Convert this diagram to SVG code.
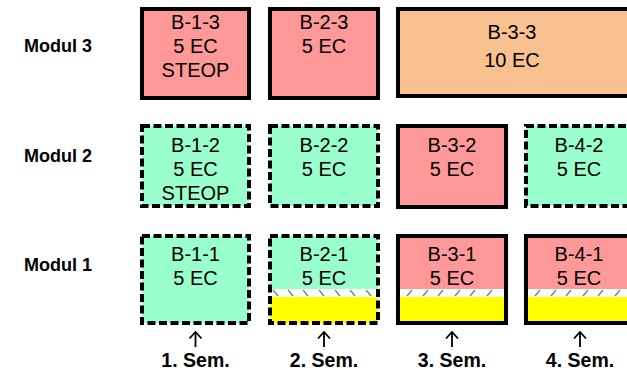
<svg xmlns="http://www.w3.org/2000/svg" width="627" height="376" viewBox="0 0 627 376">
<style>
.lab{font-family:"Liberation Sans",Arial,sans-serif;font-weight:bold;font-size:18px;fill:#000}
.bt{font-family:"Liberation Sans",Arial,sans-serif;font-size:20px;fill:#000;text-anchor:middle}
.sem{font-family:"Liberation Sans",Arial,sans-serif;font-weight:bold;font-size:19.5px;fill:#000;text-anchor:middle}
.solid{fill:none;stroke:#000;stroke-width:4}
.dash{fill:none;stroke:#000;stroke-width:4;stroke-dasharray:8 3.5}
.pink{fill:#FF9999}
.green{fill:#99FFCC}
.orange{fill:#F9C18F}
.yel{fill:#FFFF00}
.wh{fill:#FFFFFF}
.hatch{stroke:#777;stroke-width:1.2}
.arr{stroke:#000;stroke-width:1.8;fill:none}
</style>
<defs>
<marker id="ah" markerWidth="9" markerHeight="14" refX="7.5" refY="7" orient="auto" markerUnits="userSpaceOnUse" viewBox="0 0 9 14">
<path d="M1,1 L7.5,7 L1,13" fill="none" stroke="#000" stroke-width="1.8"/>
</marker>
</defs>
<rect width="627" height="376" fill="#fff"/>
<g id="labels">
<text class="lab" x="24" y="52">Modul 3</text>
<text class="lab" x="24" y="162">Modul 2</text>
<text class="lab" x="24" y="271">Modul 1</text>
</g>
<g id="B-1-3">
<rect class="pink" x="142" y="9" width="107" height="89"/>
<rect class="solid" x="142" y="9" width="107" height="89"/>
<text class="bt" x="195.5" y="29">B-1-3</text>
<text class="bt" x="195.5" y="53">5 EC</text>
<text class="bt" x="195.5" y="77">STEOP</text>
</g>
<g id="B-2-3">
<rect class="pink" x="270" y="9" width="108" height="89"/>
<rect class="solid" x="270" y="9" width="108" height="89"/>
<text class="bt" x="324" y="29">B-2-3</text>
<text class="bt" x="324" y="53">5 EC</text>
</g>
<g id="B-3-3">
<rect class="orange" x="398" y="9" width="231" height="87"/>
<rect class="solid" x="398" y="9" width="231" height="87"/>
<text class="bt" x="512" y="39">B-3-3</text>
<text class="bt" x="512" y="67">10 EC</text>
</g>
<g id="B-1-2">
<rect class="green" x="142" y="126" width="107" height="80"/>
<rect class="dash" x="142" y="126" width="107" height="80"/>
<text class="bt" x="195.5" y="152">B-1-2</text>
<text class="bt" x="195.5" y="176">5 EC</text>
<text class="bt" x="195.5" y="200">STEOP</text>
</g>
<g id="B-2-2">
<rect class="green" x="270" y="126" width="108" height="80"/>
<rect class="dash" x="270" y="126" width="108" height="80"/>
<text class="bt" x="324" y="152">B-2-2</text>
<text class="bt" x="324" y="176">5 EC</text>
</g>
<g id="B-3-2">
<rect class="pink" x="398" y="126" width="108" height="81"/>
<rect class="solid" x="398" y="126" width="108" height="81"/>
<text class="bt" x="452" y="152">B-3-2</text>
<text class="bt" x="452" y="176">5 EC</text>
</g>
<g id="B-4-2">
<rect class="green" x="526" y="126" width="110" height="80"/>
<rect class="dash" x="526" y="126" width="110" height="80"/>
<text class="bt" x="579" y="152">B-4-2</text>
<text class="bt" x="579" y="176">5 EC</text>
</g>
<g id="B-1-1">
<rect class="green" x="142" y="236" width="107" height="87"/>
<rect class="dash" x="142" y="236" width="107" height="87"/>
<text class="bt" x="195.5" y="261">B-1-1</text>
<text class="bt" x="195.5" y="285">5 EC</text>
</g>
<g id="B-2-1">
<rect class="green" x="270" y="236" width="108" height="87"/>
<rect class="wh" x="270" y="289" width="108" height="8"/>
<rect class="yel" x="270" y="297" width="108" height="26"/>
<g class="hatch">
<line x1="273" y1="290" x2="278" y2="296"/><line x1="288" y1="290" x2="293" y2="296"/><line x1="303" y1="290" x2="308" y2="296"/><line x1="319" y1="290" x2="324" y2="296"/><line x1="335" y1="290" x2="340" y2="296"/><line x1="350" y1="290" x2="355" y2="296"/><line x1="366" y1="290" x2="371" y2="296"/>
</g>
<rect class="dash" x="270" y="236" width="108" height="87"/>
<text class="bt" x="324" y="261">B-2-1</text>
<text class="bt" x="324" y="285">5 EC</text>
</g>
<g id="B-3-1">
<rect class="pink" x="398" y="236" width="108" height="87"/>
<rect class="wh" x="398" y="289" width="108" height="8"/>
<rect class="yel" x="398" y="297" width="108" height="26"/>
<g class="hatch">
<line x1="407" y1="296" x2="412" y2="290"/><line x1="423" y1="296" x2="428" y2="290"/><line x1="438" y1="296" x2="443" y2="290"/><line x1="455" y1="296" x2="460" y2="290"/><line x1="470" y1="296" x2="475" y2="290"/><line x1="487" y1="296" x2="492" y2="290"/>
</g>
<rect class="solid" x="398" y="236" width="108" height="87"/>
<text class="bt" x="452" y="261">B-3-1</text>
<text class="bt" x="452" y="285">5 EC</text>
</g>
<g id="B-4-1">
<rect class="pink" x="526" y="236" width="110" height="87"/>
<rect class="wh" x="526" y="289" width="110" height="8"/>
<rect class="yel" x="526" y="297" width="110" height="26"/>
<g class="hatch">
<line x1="535" y1="296" x2="540" y2="290"/><line x1="551" y1="296" x2="556" y2="290"/><line x1="566" y1="296" x2="571" y2="290"/><line x1="583" y1="296" x2="588" y2="290"/><line x1="598" y1="296" x2="603" y2="290"/><line x1="615" y1="296" x2="620" y2="290"/>
</g>
<rect class="solid" x="526" y="236" width="110" height="87"/>
<text class="bt" x="579" y="261">B-4-1</text>
<text class="bt" x="579" y="285">5 EC</text>
</g>
<g id="connectors">
<line class="arr" x1="195.5" y1="347" x2="195.5" y2="332" marker-end="url(#ah)"/>
<line class="arr" x1="324" y1="347" x2="324" y2="332" marker-end="url(#ah)"/>
<line class="arr" x1="452" y1="347" x2="452" y2="332" marker-end="url(#ah)"/>
<line class="arr" x1="580" y1="347" x2="580" y2="332" marker-end="url(#ah)"/>
</g>
<g id="sem">
<text class="sem" x="195.5" y="367">1. Sem.</text>
<text class="sem" x="324" y="367">2. Sem.</text>
<text class="sem" x="452" y="367">3. Sem.</text>
<text class="sem" x="580" y="367">4. Sem.</text>
</g>
</svg>
